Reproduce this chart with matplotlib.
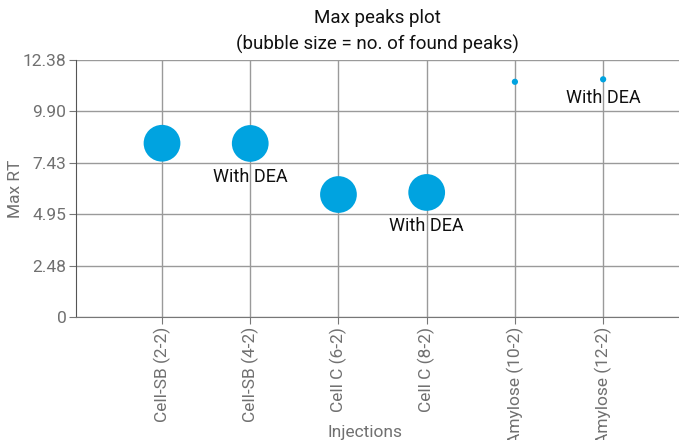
import matplotlib
matplotlib.use("Agg")
import matplotlib.pyplot as plt
import numpy as np

# ── data ------------------------------------------------------------------- #
injections = ["Cell-SB (2-2)", "Cell-SB (4-2)", "Cell C (6-2)",
              "Cell C (8-2)", "Amylose (10-2)", "Amylose (12-2)"]
max_rt = [8.37, 8.36, 5.90, 6.00, 11.33, 11.45]
found_peaks = [35, 35, 35, 35, 1, 1]
notes = ["", "With DEA", "", "With DEA", "", "With DEA"]
yticks = [0, 2.48, 4.95, 7.43, 9.90, 12.38]
ytick_labels = ["0", "2.48", "4.95", "7.43", "9.90", "12.38"]

plt.rcParams["font.family"] = ["Roboto", "DejaVu Sans"]

fig = plt.figure(figsize=(6.79, 4.40), dpi=100)
ax = fig.add_axes([76 / 679, 1 - 317 / 440, 1 - 76 / 679, (317 - 60) / 440])

x = np.arange(len(injections))
sizes = np.array(found_peaks) * 20
ax.scatter(x, max_rt, s=sizes, color="#00A3E0", zorder=3, linewidths=0)

for xi, yi, n, s in zip(x, max_rt, notes, sizes):
    if n:
        off = np.sqrt(s) / 2 + 11
        ax.annotate(n, (xi, yi), xytext=(0, -off), textcoords="offset points",
                    ha="center", va="center", fontsize=13, color="#111111")

ax.set_xlim(-0.975, 5.86)
ax.set_ylim(0, 12.38)
ax.set_xticks(x)
ax.set_xticklabels(injections, rotation=90, fontsize=12.5, color="#707070")
ax.set_yticks(yticks)
ax.set_yticklabels(ytick_labels, fontsize=12.5, color="#707070")
ax.grid(True, color="#9a9a9a", linewidth=1)
ax.set_axisbelow(True)

for side in ["top", "right"]:
    ax.spines[side].set_visible(False)
ax.spines["left"].set_color("#555555")
ax.spines["bottom"].set_color("#777777")
ax.tick_params(axis="both", length=5, color="#777777", pad=2)

ax.set_ylabel("Max RT", fontsize=12.5, color="#707070")
ax.yaxis.set_label_coords(-0.088, 0.5)
ax.set_xlabel("Injections", fontsize=12.5, color="#707070")
ax.xaxis.set_label_coords((365 - 76) / 603, -0.42)

fig.text(377 / 679, 1 - 18 / 440, "Max peaks plot", ha="center", va="center",
         fontsize=13.5, color="#111111")
fig.text(377 / 679, 1 - 44 / 440, "(bubble size = no. of found peaks)",
         ha="center", va="center", fontsize=13.5, color="#111111")

fig.savefig("out.png", dpi=100)
